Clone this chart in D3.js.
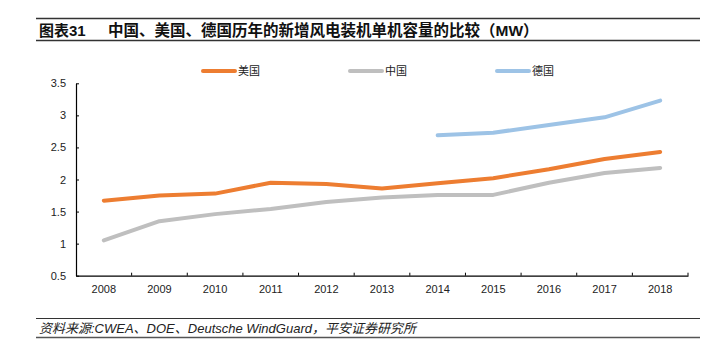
<!DOCTYPE html>
<html>
<head>
<meta charset="utf-8">
<script src="https://cdn.jsdelivr.net/npm/d3@7/dist/d3.min.js"></script>
<style>
  body { margin: 0; background: #fff; }
  svg { display: block; }
</style>
</head>
<body>
<svg id="chart" width="721" height="359"></svg>
<script>
const years = ["2008","2009","2010","2011","2012","2013","2014","2015","2016","2017","2018"];
const usValues = [1.67, 1.75, 1.78, 1.95, 1.93, 1.86, 1.94, 2.02, 2.16, 2.32, 2.43];
const chinaValues = [1.05, 1.35, 1.46, 1.54, 1.65, 1.72, 1.76, 1.76, 1.95, 2.10, 2.18];
const germanyValues = [null, null, null, null, null, null, 2.69, 2.73, 2.85, 2.97, 3.23];
const yTicks = [0.5, 1, 1.5, 2, 2.5, 3, 3.5];
const seriesNames = ["美国", "中国", "德国"];
const seriesColors = ["#ED7D31", "#BFBFBF", "#9DC3E6"];
const titleText = "图表31";
const titleRest = "中国、美国、德国历年的新增风电装机单机容量的比较（MW）";
const sourceText = "资料来源:CWEA、DOE、Deutsche WindGuard，平安证券研究所";

const svg = d3.select("#chart");
const font = "'Liberation Sans', Arial, 'Noto Sans CJK SC', sans-serif";
const cjk = "'Noto Sans CJK SC', 'Liberation Sans', sans-serif";
const mixed = "'Liberation Sans', 'Noto Sans CJK SC', sans-serif";

// Title block
svg.append("line").attr("x1", 36).attr("x2", 700).attr("y1", 18.5).attr("y2", 18.5)
  .attr("stroke", "#333").attr("stroke-width", 1.5);
svg.append("line").attr("x1", 36).attr("x2", 700).attr("y1", 40.5).attr("y2", 40.5)
  .attr("stroke", "#333").attr("stroke-width", 1.5);
svg.append("text").attr("x", 39).attr("y", 35.5)
  .attr("font-family", mixed).attr("font-weight", "bold").attr("font-size", 15)
  .attr("fill", "#111").text(titleText);
svg.append("text").attr("x", 108).attr("y", 35.5)
  .attr("font-family", mixed).attr("font-weight", "bold").attr("font-size", 15.5)
  .attr("fill", "#111").text(titleRest);

// Footer block
svg.append("line").attr("x1", 36).attr("x2", 700).attr("y1", 318.5).attr("y2", 318.5)
  .attr("stroke", "#333").attr("stroke-width", 1.2);
svg.append("line").attr("x1", 36).attr("x2", 700).attr("y1", 337.5).attr("y2", 337.5)
  .attr("stroke", "#555").attr("stroke-width", 1.5);
svg.append("text").attr("x", 39).attr("y", 332.5)
  .attr("font-family", mixed).attr("font-style", "italic").attr("font-size", 13)
  .attr("fill", "#222").text(sourceText);

// Scales
const plotLeft = 76, plotRight = 688, plotTop = 83.3, plotBottom = 275.7;
const x = d3.scaleBand().domain(years).range([plotLeft, plotRight]);
const y = d3.scaleLinear().domain([0.5, 3.5]).range([plotBottom, plotTop]);

// Axes
const yAxis = svg.append("g").attr("transform", `translate(${plotLeft},0)`)
  .call(d3.axisLeft(y).tickValues(yTicks).tickSizeInner(-3).tickSizeOuter(0).tickPadding(10)
    .tickFormat(d => String(d)));
const xAxis = svg.append("g").attr("transform", `translate(0,${plotBottom})`)
  .call(d3.axisBottom(x).tickSize(0).tickPadding(10));
const boundaries = years.map(yr => x(yr) + x.bandwidth());
xAxis.selectAll(".bticks").data(boundaries).enter().append("line")
  .attr("x1", d => d).attr("x2", d => d).attr("y1", 0).attr("y2", -3)
  .attr("stroke", "#000").attr("stroke-width", 1);
[yAxis, xAxis].forEach(g => {
  g.selectAll("path.domain").attr("stroke", "#000").attr("stroke-width", 1.2);
  g.selectAll(".tick line").attr("stroke", "#000");
  g.selectAll(".tick text").attr("font-family", font).attr("font-size", 11).attr("fill", "#222");
});

// Lines
const allSeries = [usValues, chinaValues, germanyValues];
const lineGen = d3.line()
  .defined(d => d.v != null)
  .x(d => x(d.year) + x.bandwidth() / 2)
  .y(d => y(d.v));
[1, 0, 2].forEach(i => {
  const data = years.map((yr, j) => ({ year: yr, v: allSeries[i][j] }));
  svg.append("path").datum(data)
    .attr("fill", "none").attr("stroke", seriesColors[i])
    .attr("stroke-width", 4).attr("stroke-linecap", "round").attr("stroke-linejoin", "round")
    .attr("d", lineGen);
});

// Legend
const legendX = [203, 350, 497];
seriesNames.forEach((name, i) => {
  const g = svg.append("g").attr("transform", `translate(${legendX[i]},71)`);
  g.append("line").attr("x1", 0).attr("x2", 32).attr("y1", 0).attr("y2", 0)
    .attr("stroke", seriesColors[i]).attr("stroke-width", 4).attr("stroke-linecap", "round");
  g.append("text").attr("x", 35).attr("y", 4).attr("font-family", cjk).attr("font-size", 11)
    .attr("fill", "#222").text(name);
});
</script>
</body>
</html>
